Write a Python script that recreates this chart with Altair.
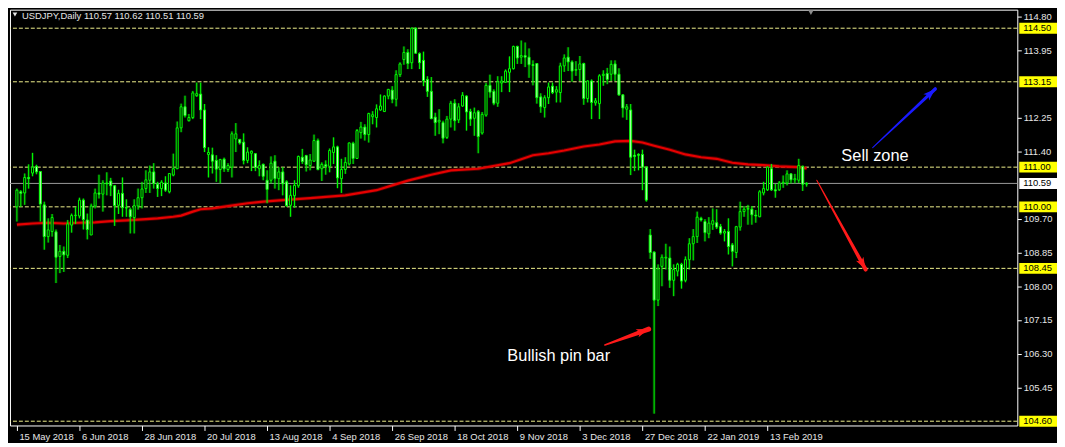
import math
import altair as alt
import pandas as pd

# ---------------- values ----------------
opens = [110.00, 110.38, 110.35, 110.74, 110.85, 111.02, 110.89, 110.05, 109.25, 109.38,
         109.37, 108.75, 108.88, 108.78, 109.54, 109.78, 109.77, 110.17, 109.67, 109.29,
         110.02, 110.35, 110.32, 110.60, 110.65, 110.53, 110.04, 110.34, 109.98, 109.93,
         109.73, 110.02, 110.23, 110.46, 110.67, 110.88, 110.57, 110.46, 110.60, 110.38,
         110.80, 110.96, 111.99, 112.52, 112.17, 112.25, 112.80, 112.84, 112.44, 111.32,
         111.31, 111.17, 110.94, 111.20, 110.94, 111.00, 111.71, 111.70, 111.63, 111.17,
         111.35, 111.34, 110.96, 111.07, 110.67, 110.67, 111.15, 110.71, 110.88, 110.63,
         110.04, 110.28, 110.53, 111.25, 111.29, 111.04, 111.15, 111.67, 110.96, 111.06,
         111.02, 111.37, 111.51, 110.71, 110.94, 111.08, 111.60, 111.22, 111.87, 112.01,
         111.82, 112.27, 112.25, 112.44, 112.40, 112.79, 112.94, 112.71, 113.33, 113.71,
         113.89, 113.63, 114.50, 113.86, 113.69, 113.21, 112.91, 112.26, 112.14, 112.12,
         111.75, 112.21, 112.61, 112.19, 112.54, 112.79, 112.40, 112.23, 112.40, 111.86,
         112.31, 113.06, 112.91, 112.61, 113.12, 113.14, 113.39, 113.48, 114.04, 113.77,
         113.81, 113.77, 113.58, 113.61, 112.77, 112.50, 112.75, 113.04, 112.89, 112.88,
         113.55, 113.77, 113.65, 113.44, 113.46, 113.61, 112.73, 113.17, 112.62, 112.60,
         113.31, 113.36, 113.34, 113.60, 113.34, 112.82, 112.46, 112.44, 111.30, 111.32,
         111.32, 111.00, 109.29, 108.86, 107.65, 108.50, 108.71, 108.71, 108.15, 108.38,
         108.55, 108.15, 108.67, 109.07, 109.25, 109.71, 109.63, 109.32, 109.56, 109.60,
         109.50, 109.34, 109.38, 109.04, 108.85, 109.49, 109.88, 109.94, 109.94, 109.79,
         109.75, 110.35, 110.43, 110.96, 110.43, 110.43, 110.60, 110.60, 110.83, 110.68,
         110.67, 111.02, 110.57]
highs = [110.46, 110.42, 110.84, 111.07, 111.36, 111.06, 110.90, 110.13, 109.71, 109.82,
         109.43, 109.04, 109.00, 109.67, 109.83, 110.00, 110.23, 110.21, 109.83, 110.08,
         110.46, 110.81, 110.67, 110.87, 110.73, 110.55, 110.43, 110.74, 110.19, 109.98,
         110.19, 110.46, 110.63, 110.92, 111.04, 111.10, 110.63, 110.67, 110.77, 110.85,
         111.34, 112.15, 112.60, 112.80, 112.34, 112.92, 113.13, 113.13, 112.59, 111.50,
         111.49, 111.30, 111.21, 111.24, 111.10, 111.90, 112.11, 111.71, 111.85, 111.50,
         111.42, 111.35, 111.17, 111.09, 110.92, 111.27, 111.30, 111.00, 111.00, 110.67,
         110.54, 110.67, 111.29, 111.46, 111.31, 111.33, 111.82, 111.72, 111.12, 111.17,
         111.47, 111.75, 111.54, 111.21, 111.25, 111.62, 111.64, 111.96, 112.14, 112.08,
         112.37, 112.41, 112.58, 112.83, 112.81, 112.97, 113.04, 113.44, 113.64, 114.04,
         113.97, 114.52, 114.52, 113.89, 113.91, 113.29, 113.27, 112.37, 112.46, 112.17,
         112.29, 112.67, 112.71, 112.61, 112.89, 112.81, 112.47, 112.50, 112.44, 112.39,
         113.12, 113.33, 112.96, 113.29, 113.29, 113.46, 113.79, 114.06, 114.06, 114.19,
         114.14, 113.99, 113.69, 113.62, 112.86, 112.81, 113.13, 113.13, 113.04, 113.63,
         113.84, 114.02, 113.69, 113.67, 113.80, 113.63, 113.19, 113.21, 112.74, 113.34,
         113.44, 113.50, 113.69, 113.69, 113.49, 112.84, 112.59, 112.59, 111.44, 111.35,
         111.44, 111.02, 109.44, 108.88, 108.55, 108.80, 109.07, 109.00, 108.55, 108.59,
         108.59, 108.75, 109.21, 109.44, 109.88, 109.75, 109.69, 109.74, 109.96, 109.94,
         109.57, 109.44, 109.71, 109.09, 109.52, 110.13, 110.02, 110.05, 110.02, 109.92,
         110.42, 110.63, 111.02, 111.08, 110.58, 110.65, 110.79, 110.92, 110.85, 110.83,
         111.21, 111.04, 110.62]
lows = [109.63, 110.00, 110.05, 110.46, 110.77, 110.82, 109.63, 108.92, 109.10, 109.25,
        108.08, 108.33, 108.36, 108.71, 109.35, 109.57, 109.71, 109.43, 109.18, 109.29,
        109.96, 110.21, 109.88, 110.29, 110.27, 109.52, 109.82, 109.75, 109.75, 109.33,
        109.33, 109.93, 109.96, 110.35, 110.35, 110.46, 110.25, 110.27, 110.38, 110.34,
        110.77, 110.95, 111.88, 112.25, 112.15, 112.21, 112.77, 112.21, 111.38, 110.74,
        110.84, 110.63, 110.59, 110.88, 110.88, 110.74, 111.38, 111.57, 111.07, 111.10,
        110.90, 110.90, 110.77, 110.67, 110.09, 110.59, 110.46, 110.42, 110.29, 110.00,
        109.75, 109.98, 110.48, 111.08, 110.89, 110.92, 111.13, 110.92, 110.65, 110.81,
        110.87, 111.08, 110.47, 110.35, 110.83, 111.04, 111.08, 111.21, 111.72, 111.67,
        111.62, 112.08, 112.00, 112.42, 112.39, 112.71, 112.61, 112.53, 113.27, 113.58,
        113.47, 113.47, 113.86, 113.47, 113.04, 112.77, 112.21, 111.79, 111.83, 111.60,
        111.71, 112.00, 111.92, 112.11, 112.52, 111.92, 112.04, 111.79, 111.35, 111.82,
        112.27, 112.75, 112.56, 112.52, 112.89, 113.12, 112.89, 113.46, 113.60, 113.60,
        113.52, 113.25, 113.06, 112.60, 112.37, 112.25, 112.59, 112.84, 112.63, 112.63,
        113.40, 113.42, 113.15, 113.30, 113.17, 112.57, 112.63, 112.21, 112.55, 112.21,
        113.05, 113.09, 113.17, 113.17, 112.80, 112.25, 112.19, 110.80, 110.90, 110.92,
        110.42, 110.13, 108.69, 104.79, 107.50, 108.00, 108.42, 107.96, 107.75, 108.25,
        107.94, 108.10, 108.42, 108.65, 109.09, 109.63, 109.13, 109.21, 109.42, 109.44,
        109.30, 109.13, 108.80, 108.50, 108.71, 109.40, 109.75, 109.55, 109.55, 109.60,
        109.74, 110.29, 110.40, 110.40, 110.23, 110.40, 110.48, 110.54, 110.59, 110.59,
        110.60, 110.40, 110.51]
closes = [110.42, 110.34, 110.74, 110.71, 111.00, 110.88, 110.07, 109.25, 109.42, 109.73,
          108.73, 108.88, 108.79, 109.57, 109.78, 109.79, 110.17, 109.68, 109.43, 110.02,
          110.35, 110.32, 110.60, 110.58, 110.53, 110.03, 110.34, 109.98, 109.97, 109.75,
          110.03, 110.23, 110.45, 110.68, 110.88, 110.59, 110.46, 110.62, 110.42, 110.84,
          110.96, 111.99, 112.52, 112.30, 112.25, 112.87, 112.85, 112.44, 111.49, 111.37,
          111.15, 110.95, 111.19, 110.96, 111.04, 111.84, 111.84, 111.61, 111.17, 111.38,
          111.40, 110.99, 111.04, 110.77, 110.44, 111.10, 110.71, 110.88, 110.58, 110.03,
          110.29, 110.54, 111.27, 111.14, 111.06, 111.18, 111.67, 110.94, 111.07, 111.02,
          111.42, 111.51, 110.73, 110.94, 111.12, 111.61, 111.22, 111.92, 112.01, 111.82,
          112.35, 112.32, 112.47, 112.54, 112.79, 112.96, 112.71, 113.33, 113.60, 113.89,
          113.61, 114.50, 113.87, 113.63, 113.18, 112.91, 112.22, 112.12, 112.18, 111.73,
          112.21, 112.61, 112.17, 112.52, 112.81, 112.39, 112.21, 112.37, 111.77, 112.33,
          113.06, 112.89, 112.61, 113.15, 113.17, 113.42, 113.48, 114.04, 113.75, 113.81,
          113.77, 113.58, 113.56, 112.75, 112.52, 112.75, 113.02, 112.88, 112.95, 113.55,
          113.75, 113.65, 113.42, 113.46, 113.60, 112.73, 113.17, 112.63, 112.67, 113.30,
          113.34, 113.21, 113.59, 113.34, 112.82, 112.49, 112.52, 111.25, 111.27, 111.30,
          111.00, 110.17, 108.85, 107.65, 108.44, 108.73, 108.73, 108.15, 108.42, 108.55,
          108.13, 108.67, 109.07, 109.25, 109.74, 109.67, 109.35, 109.59, 109.65, 109.49,
          109.34, 109.38, 109.00, 108.88, 109.50, 109.88, 109.94, 109.96, 109.80, 109.77,
          110.38, 110.46, 111.00, 110.43, 110.40, 110.60, 110.62, 110.83, 110.68, 110.71,
          111.04, 110.57, 110.59]

ma_bars = [0, 4, 8, 12, 16, 20, 24, 28, 33, 36, 40, 42, 45, 47, 50, 54, 59, 63, 68, 75,
           84, 92, 96, 100, 106, 111, 118, 126, 132, 136, 140, 145, 149, 153, 157, 160,
           163, 167, 171, 175, 179, 183, 187, 191, 195, 200, 202]
ma_values = [109.55, 109.58, 109.60, 109.58, 109.60, 109.61, 109.64, 109.66, 109.69, 109.71,
             109.75, 109.78, 109.88, 109.94, 109.96, 110.02, 110.09, 110.13, 110.17, 110.22,
             110.29, 110.42, 110.54, 110.66, 110.81, 110.92, 110.96, 111.10, 111.30, 111.35,
             111.42, 111.52, 111.57, 111.65, 111.66, 111.62, 111.54, 111.44, 111.32, 111.25,
             111.21, 111.11, 111.07, 111.05, 111.02, 111.00, 110.97]

date_tick_bars = [0, 16, 32, 48, 64, 80, 96, 112, 128, 144, 160, 176, 192]
date_labels = ["15 May 2018", "6 Jun 2018", "28 Jun 2018", "20 Jul 2018", "13 Aug 2018",
               "4 Sep 2018", "26 Sep 2018", "18 Oct 2018", "9 Nov 2018", "3 Dec 2018",
               "27 Dec 2018", "22 Jan 2019", "13 Feb 2019"]

level_prices = [114.50, 113.15, 111.00, 110.00, 108.45, 104.60]
last_price = 110.59
axis_prices = [114.80, 113.95, 112.25, 111.40, 109.70, 108.85, 108.00, 107.15, 106.30, 105.45]

arrow_names = ["up", "down", "pin"]
arrow_colors = ["#1a1aff", "#ff1a1a", "#ff1a1a"]
arrow_tail_bar = [218.9, 204.6, 150.4]
arrow_tail_price = [111.49, 110.67, 106.52]
arrow_tip_bar = [234.9, 217.1, 161.6]
arrow_tip_price = [112.97, 108.42, 106.92]
arrow_tail_w = [1.0, 1.0, 1.5]
arrow_tip_w = [3.5, 4.0, 5.0]

note_texts = ["Sell zone", "Bullish pin bar"]
note_bar = [219.5, 138.6]
note_price = [111.27, 106.24]

header_text = "USDJPY,Daily  110.57 110.62 110.51 110.59"
shift_marker_bar = [203.1]

# ---------------- layout ----------------
W, H = 1015, 419
X_DOMAIN = [-0.5, 254.625]
Y_DOMAIN = [104.4925, 114.9675]
FONT = "Liberation Sans"
GREEN = "#00ff00"

xs = alt.Scale(domain=X_DOMAIN, nice=False, zero=False)
ys = alt.Scale(domain=Y_DOMAIN, nice=False, zero=False)

label_expr = "[" + ",".join("'%s'" % d for d in date_labels) + "][floor(datum.value / 16 + 0.5)]"

x_axis = alt.Axis(values=date_tick_bars, labelExpr=label_expr, grid=False, domain=False,
                  tickSize=5, tickColor="#ffffff", labelColor="#e6e6e6", labelFont=FONT,
                  labelFontSize=9.5, labelAlign="left", labelBaseline="top", labelPadding=1,
                  labelOffset=2, labelFlush=False, labelOverlap=False, labelBound=False,
                  title=None)
y_axis = alt.Axis(orient="right", values=axis_prices, format=".2f", grid=False, domain=False,
                  tickSize=4, tickColor="#ffffff", labelColor="#e6e6e6", labelFont=FONT,
                  labelFontSize=9.5, labelPadding=2, labelOverlap=False, labelBound=False,
                  labelFlush=False, title=None)


def X(field):
    return alt.X(field, scale=xs, axis=x_axis)


def Y(field):
    return alt.Y(field, scale=ys, axis=y_axis)


n = len(opens)
candles = pd.DataFrame({"bar": list(range(n)), "open": opens, "high": highs,
                        "low": lows, "close": closes})
candles["kind"] = ["bear" if c < o else "bull" for o, c in zip(opens, closes)]

ma = pd.DataFrame({"bar": ma_bars, "ma": ma_values})
levels = pd.DataFrame({"price": level_prices})
last = pd.DataFrame({"price": [last_price]})

levels_layer = alt.Chart(levels).mark_rule(color="#f0f08c", strokeDash=[4, 2], strokeWidth=1).encode(
    y=Y("price:Q"))
last_layer = alt.Chart(last).mark_rule(color="#9a9a9a", strokeWidth=1).encode(y=Y("price:Q"))
ma_glow = alt.Chart(ma).mark_line(color="#a00000", strokeWidth=4, opacity=0.45).encode(
    x=X("bar:Q"), y=Y("ma:Q"))
ma_layer = alt.Chart(ma).mark_line(color="#e60000", strokeWidth=2.2).encode(
    x=X("bar:Q"), y=Y("ma:Q"))

wick_glow = alt.Chart(candles).mark_rule(color="#00b000", strokeWidth=3, opacity=0.3).encode(
    x=X("bar:Q"), y=Y("low:Q"), y2="high:Q")
wicks = alt.Chart(candles).mark_rule(color=GREEN, strokeWidth=1).encode(
    x=X("bar:Q"), y=Y("low:Q"), y2="high:Q")
bodies = alt.Chart(candles).mark_bar(width=2, stroke=GREEN, strokeWidth=1).encode(
    x=X("bar:Q"), y=Y("open:Q"), y2="close:Q",
    fill=alt.Fill("kind:N", scale=alt.Scale(domain=["bull", "bear"], range=["#000000", "#c8ffc8"]),
                  legend=None))

# arrows
px_bar = W / (X_DOMAIN[1] - X_DOMAIN[0])
px_yen = H / (Y_DOMAIN[1] - Y_DOMAIN[0])
trail_rows = []
head_rows = []
for i, name in enumerate(arrow_names):
    trail_rows.append({"name": name, "bar": arrow_tail_bar[i], "price": arrow_tail_price[i],
                       "w": arrow_tail_w[i], "color": arrow_colors[i]})
    trail_rows.append({"name": name, "bar": arrow_tip_bar[i], "price": arrow_tip_price[i],
                       "w": arrow_tip_w[i], "color": arrow_colors[i]})
    dx = (arrow_tip_bar[i] - arrow_tail_bar[i]) * px_bar
    dy = (arrow_tip_price[i] - arrow_tail_price[i]) * px_yen
    ang = math.degrees(math.atan2(dx, dy)) % 360
    head_rows.append({"name": name, "bar": arrow_tip_bar[i], "price": arrow_tip_price[i],
                      "angle": ang, "color": arrow_colors[i]})
trails = alt.Chart(pd.DataFrame(trail_rows)).mark_trail().encode(
    x=X("bar:Q"), y=Y("price:Q"), size=alt.Size("w:Q", scale=None, legend=None),
    color=alt.Color("color:N", scale=None), detail="name:N")
head_path = "M0,0L0.55,1.6L0,1.2L-0.55,1.6Z"
heads = alt.Chart(pd.DataFrame(head_rows)).mark_point(shape=head_path, filled=True, size=240,
                                                       opacity=1, strokeWidth=0).encode(
    x=X("bar:Q"), y=Y("price:Q"), angle=alt.Angle("angle:Q", scale=None),
    color=alt.Color("color:N", scale=None))

notes = alt.Chart(pd.DataFrame({"t": note_texts, "bar": note_bar, "price": note_price})).mark_text(
    font=FONT, fontSize=16.5, color="#ffffff", align="center", baseline="middle").encode(
    x=X("bar:Q"), y=Y("price:Q"), text="t:N")

# right-hand price boxes
boxes = pd.DataFrame({"price": level_prices + [last_price],
                      "bg": ["#ffff00"] * len(level_prices) + ["#ffffff"]})
boxes["label"] = ["%.2f" % p for p in boxes["price"]]
box_layer = alt.Chart(boxes).mark_tick(orient="horizontal", size=38, thickness=11, opacity=1).encode(
    y=Y("price:Q"), x=alt.value(W + 21), color=alt.Color("bg:N", scale=None))
box_text = alt.Chart(boxes).mark_text(align="left", baseline="middle", font=FONT, fontSize=9.5,
                                      color="#000000").encode(
    y=Y("price:Q"), x=alt.value(W + 6), text="label:N")

header = alt.Chart(pd.DataFrame({"t": [header_text]})).mark_text(
    align="left", baseline="top", font=FONT, fontSize=9.5, color="#e6e6e6").encode(
    x=alt.value(12), y=alt.value(1), text="t:N")
header_tri = alt.Chart(pd.DataFrame({"t": [1]})).mark_point(
    shape="triangle-down", filled=True, size=22, color="#e6e6e6", opacity=1).encode(
    x=alt.value(5), y=alt.value(5))
shift_marker = alt.Chart(pd.DataFrame({"bar": shift_marker_bar})).mark_point(
    shape="triangle-down", filled=True, size=28, color="#8c8c8c", opacity=1).encode(
    x=X("bar:Q"), y=alt.value(3))

chart = alt.layer(
    levels_layer, last_layer, ma_glow, ma_layer, wick_glow, wicks, bodies, trails, heads, notes,
    box_layer, box_text, header, header_tri, shift_marker
).properties(
    width=W, height=H, background="#000000", padding=0
).configure_view(fill="#000000", stroke="#ffffff", strokeWidth=1)

chart.save("out.html", embed_options={"renderer": "svg", "actions": False})
